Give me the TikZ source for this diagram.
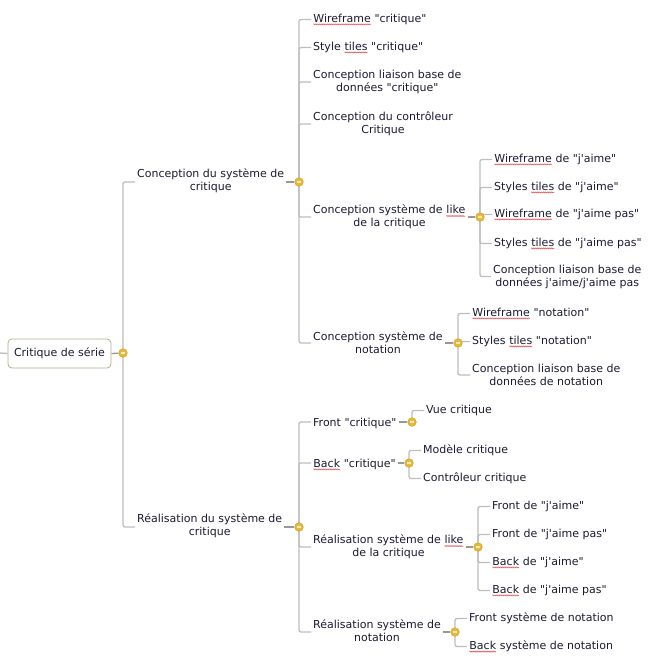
\documentclass[tikz,border=0pt]{standalone}
\usepackage{fontspec}
\setmainfont{DejaVu Sans}[Ligatures=TeXOff]
\usepackage{xcolor}
\usetikzlibrary{backgrounds,decorations.pathmorphing}

\definecolor{ink}{HTML}{1A1A33}
\definecolor{twig}{HTML}{BDBDBD}
\definecolor{stemgray}{HTML}{989898}
\definecolor{rimgray}{HTML}{B4AE8C}
\definecolor{knobfill}{HTML}{E8B83A}
\definecolor{knobrim}{HTML}{D6A424}
\definecolor{knobbar}{HTML}{FFF0C0}
\definecolor{typored}{HTML}{E04848}

% red wavy underline as in the spell checker
\newcommand\typo[1]{\tikz[baseline=(tw.base)]{%
  \node [inner sep=0pt, outer sep=0pt, anchor=base, text=ink] (tw) {#1};
  \draw [typored, line width=0.5pt, decorate,
    decoration={zigzag, amplitude=0.6pt, segment length=2pt}]
    ([yshift=-2.3pt]tw.base west) -- ([yshift=-2.3pt]tw.base east);}}

\begin{document}
\begin{tikzpicture}[
    x=1pt, y=-1pt,
    font=\fontsize{11}{13}\selectfont,
    topic/.style={
		rectangle,
		rounded corners=4pt,
		draw=rimgray,
		line width=0.8pt,
		fill=white,
		text=ink,
		minimum width=103pt,
		minimum height=29pt
	},
	item/.style={
		anchor=west,
		align=center,
		inner sep=2pt,
		yshift=-1.5pt,
		text=ink
	},
	knob/.style={
		circle,
		draw=knobrim,
		fill=knobfill,
		line width=0.6pt,
		inner sep=0pt,
		minimum size=8.5pt,
		path picture={\draw [knobbar, line width=1.3pt]
		  ([xshift=-2.2pt]path picture bounding box.center) --
		  ([xshift=2.2pt]path picture bounding box.center);}
	},
	branch/.style={
		draw=twig,
		line width=1.3pt,
		rounded corners=2pt
	},
	stem/.style={
		draw=stemgray,
		line width=1.3pt
	}
  ]
  \useasboundingbox (0,0) rectangle (653,662);

  % the root and its two branches
  \coordinate (stub) at (0,353);
  \node [topic] (serie) at (59.5,353.5) {Critique de série};
  \node [knob] (kserie) at (123,353) {};

  \node [item] (conc) at (135,179) {Conception du système de\\critique};
  \node [knob] (kconc) at (299,182) {};
  \node [item] (real) at (135,524.5) {Réalisation du système de\\critique};
  \node [knob] (kreal) at (299,527) {};

  % conception
  \node [item] (wcrit) at (311,18) {\typo{Wireframe} "critique"};
  \node [item] (scrit) at (311,46) {Style \typo{tiles} "critique"};
  \node [item] (bdcrit) at (311,80.5) {Conception liaison base de\\données "critique"};
  \node [item] (ctrl) at (311,122.5) {Conception du contrôleur\\Critique};
  \node [item] (like) at (311,215.5) {Conception système de \typo{like}\\de la critique};
  \node [knob] (klike) at (480,217) {};
  \node [item] (note) at (311,341.5) {Conception système de\\notation};
  \node [knob] (knote) at (458,343) {};

  \node [item] (wlike) at (492,158) {\typo{Wireframe} de "j'aime"};
  \node [item] (slike) at (492,186) {Styles \typo{tiles} de "j'aime"};
  \node [item] (wdis) at (492,213) {\typo{Wireframe} de "j'aime pas"};
  \node [item] (sdis) at (492,242) {Styles \typo{tiles} de "j'aime pas"};
  \node [item] (bdlike) at (491,275) {Conception liaison base de\\données j'aime/j'aime pas};

  \node [item] (wnote) at (470,312) {\typo{Wireframe} "notation"};
  \node [item] (snote) at (470,340) {Styles \typo{tiles} "notation"};
  \node [item] (bdnote) at (470,373.5) {Conception liaison base de\\données de notation};

  % realisation
  \node [item] (front) at (311,421.5) {Front "critique"};
  \node [knob] (kfront) at (412,422) {};
  \node [item] (vue) at (424,409) {Vue critique};
  \node [item] (back) at (311,463) {\typo{Back} "critique"};
  \node [knob] (kback) at (409,463) {};
  \node [item] (modele) at (421,449) {Modèle critique};
  \node [item] (ctrlr) at (421,477) {Contrôleur critique};
  \node [item] (rlike) at (311,545.5) {Réalisation système de \typo{like}\\de la critique};
  \node [knob] (krlike) at (478,547) {};
  \node [item] (flike) at (490,505) {Front de "j'aime"};
  \node [item] (fdis) at (490,533) {Front de "j'aime pas"};
  \node [item] (blike) at (490,561) {\typo{Back} de "j'aime"};
  \node [item] (bdis) at (490,589) {\typo{Back} de "j'aime pas"};
  \node [item] (rnote) at (311,629.5) {Réalisation système de\\notation};
  \node [knob] (krnote) at (455,632) {};
  \node [item] (fnote) at (467,617) {Front système de notation};
  \node [item] (bnote) at (467,645) {\typo{Back} système de notation};

  % connectors go under the knobs
  \begin{scope}[on background layer]
  \draw [branch] (stub) -- (serie.west);
  \draw [stem] (serie.east) -- (kserie);
  \draw [branch] (kserie.center) |- (conc.west |- kconc);
  \draw [branch] (kserie.center) |- (real.west |- kreal);
  \draw [stem] (conc.east |- kconc) -- (kconc);
  \draw [stem] (real.east |- kreal) -- (kreal);

  \foreach \n in {wcrit,scrit,bdcrit,ctrl}
    \draw [branch] (kconc.center) |- (\n.west);
  \draw [branch] (kconc.center) |- (like.west |- klike);
  \draw [branch] (kconc.center) |- (note.west |- knote);
  \draw [stem] (like.east |- klike) -- (klike);
  \draw [stem] (note.east |- knote) -- (knote);
  \foreach \n in {wlike,slike,wdis,sdis,bdlike}
    \draw [branch] (klike.center) |- (\n.west);
  \foreach \n in {wnote,snote,bdnote}
    \draw [branch] (knote.center) |- (\n.west);

  \draw [branch] (kreal.center) |- (front.west |- kfront);
  \draw [branch] (kreal.center) |- (back.west |- kback);
  \draw [branch] (kreal.center) |- (rlike.west |- krlike);
  \draw [branch] (kreal.center) |- (rnote.west |- krnote);
  \draw [stem] (front.east |- kfront) -- (kfront);
  \draw [stem] (back.east |- kback) -- (kback);
  \draw [stem] (rlike.east |- krlike) -- (krlike);
  \draw [stem] (rnote.east |- krnote) -- (krnote);
  \draw [branch] (kfront.center) |- (vue.west);
  \foreach \n in {modele,ctrlr}
    \draw [branch] (kback.center) |- (\n.west);
  \foreach \n in {flike,fdis,blike,bdis}
    \draw [branch] (krlike.center) |- (\n.west);
  \foreach \n in {fnote,bnote}
    \draw [branch] (krnote.center) |- (\n.west);
  \end{scope}

\end{tikzpicture}
\end{document}
